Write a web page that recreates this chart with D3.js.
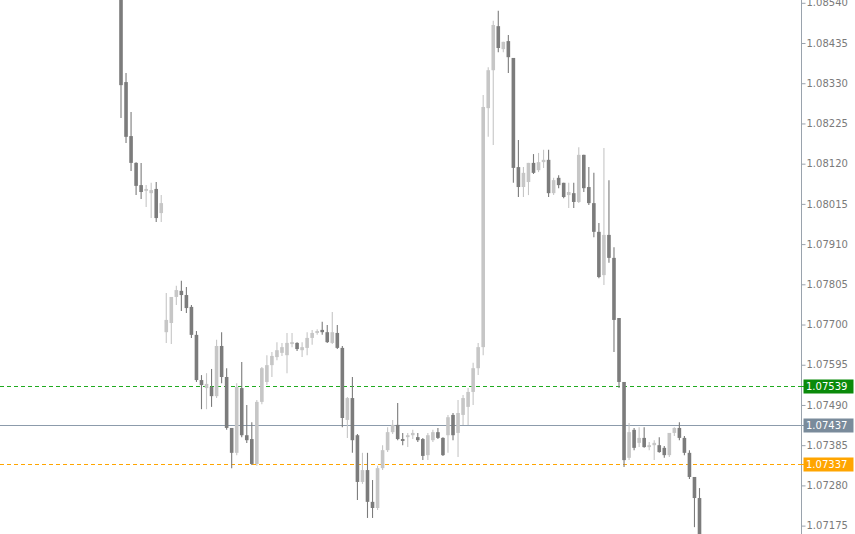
<!DOCTYPE html>
<html><head><meta charset="utf-8">
<script src="https://cdn.jsdelivr.net/npm/d3@7"></script>
<style>
html,body{margin:0;padding:0;background:#fff;overflow:hidden}
svg{display:block}
text{font-family:"DejaVu Sans",sans-serif;font-size:10px}
</style></head>
<body>
<svg id="chart" width="855" height="534"></svg>
<script>
// ---- data (EURUSD-like candles) ----
const opens = [1.08580,1.08333,1.08192,1.08122,1.08064,1.08049,1.08043,1.08054,1.07991,
1.07680,1.07704,1.07772,1.07788,1.07777,1.07746,1.07673,1.07555,1.07534,1.07537,1.07513,1.07644,1.07563,1.07430,1.07365,1.07534,1.07411,1.07401,1.07336,1.07498,1.07550,
1.07594,1.07615,1.07626,1.07620,1.07649,1.07652,1.07633,1.07639,1.07665,1.07678,1.07686,1.07680,1.07652,1.07678,1.07639,1.07451,1.07508,1.07411,1.07289,1.07320,
1.07237,1.07221,1.07325,1.07372,1.07419,1.07438,1.07401,1.07406,1.07411,1.07406,1.07401,1.07359,1.07398,1.07419,1.07404,1.07411,1.07464,1.07417,1.07464,1.07485,
1.07524,1.07586,1.07641,1.08265,1.08364,1.08479,1.08419,1.08440,1.08396,1.08111,1.08059,1.08072,1.08122,1.08103,1.08124,1.08130,1.08043,1.08083,1.08070,1.08038,
1.08043,1.08020,1.08143,1.08059,1.08017,1.07942,1.07829,1.07934,1.07874,1.07717,1.07550,1.07352,1.07425,1.07391,1.07404,1.07380,1.07385,1.07385,1.07378,1.07359,
1.07417,1.07430,1.07404,1.07365,1.07302,1.07247];
const highs = [1.08590,1.08357,1.08255,1.08124,1.08122,1.08064,1.08070,1.08072,1.08038,
1.07782,1.07772,1.07801,1.07814,1.07798,1.07751,1.07683,1.07568,1.07573,1.07584,1.07660,1.07680,1.07586,1.07430,1.07547,1.07602,1.07490,1.07445,1.07503,1.07589,1.07620,
1.07628,1.07654,1.07652,1.07678,1.07678,1.07654,1.07654,1.07680,1.07686,1.07688,1.07707,1.07699,1.07733,1.07699,1.07644,1.07511,1.07563,1.07414,1.07365,1.07365,
1.07294,1.07331,1.07385,1.07432,1.07451,1.07495,1.07417,1.07417,1.07425,1.07417,1.07404,1.07417,1.07425,1.07430,1.07406,1.07464,1.07469,1.07503,1.07516,1.07534,
1.07600,1.07652,1.08299,1.08372,1.08493,1.08519,1.08438,1.08456,1.08396,1.08182,1.08111,1.08122,1.08145,1.08148,1.08156,1.08156,1.08083,1.08090,1.08070,1.08070,
1.08070,1.08163,1.08143,1.08111,1.08096,1.07965,1.08161,1.08077,1.07902,1.07717,1.07550,1.07443,1.07430,1.07432,1.07432,1.07393,1.07398,1.07406,1.07383,1.07417,
1.07432,1.07445,1.07409,1.07372,1.07302,1.07273];
const lows = [1.08239,1.08174,1.08101,1.08038,1.08028,1.08007,1.07978,1.07968,1.07968,
1.07652,1.07649,1.07751,1.07735,1.07730,1.07665,1.07550,1.07479,1.07479,1.07485,1.07508,1.07547,1.07425,1.07325,1.07359,1.07406,1.07391,1.07333,1.07331,1.07492,1.07542,
1.07563,1.07607,1.07618,1.07573,1.07641,1.07631,1.07615,1.07620,1.07647,1.07673,1.07673,1.07652,1.07649,1.07636,1.07432,1.07404,1.07365,1.07242,1.07284,1.07195,
1.07195,1.07216,1.07320,1.07367,1.07414,1.07398,1.07385,1.07380,1.07401,1.07393,1.07346,1.07346,1.07393,1.07401,1.07357,1.07365,1.07398,1.07354,1.07438,1.07438,
1.07490,1.07568,1.07620,1.08190,1.08169,1.08411,1.08411,1.08357,1.08070,1.08033,1.08033,1.08038,1.08093,1.08098,1.08109,1.08033,1.08038,1.08056,1.08030,1.08004,
1.08004,1.08017,1.08046,1.08012,1.07928,1.07821,1.07803,1.07861,1.07628,1.07534,1.07328,1.07346,1.07372,1.07380,1.07378,1.07372,1.07346,1.07365,1.07352,1.07354,
1.07409,1.07398,1.07359,1.07297,1.07171,1.07124];
const closes = [1.08325,1.08190,1.08122,1.08062,1.08046,1.08054,1.08051,1.07978,1.08017,
1.07712,1.07772,1.07790,1.07777,1.07743,1.07673,1.07555,1.07542,1.07545,1.07513,1.07644,1.07563,1.07430,1.07365,1.07537,1.07411,1.07398,1.07336,1.07498,1.07586,1.07594,
1.07618,1.07633,1.07641,1.07652,1.07654,1.07636,1.07641,1.07665,1.07678,1.07683,1.07680,1.07654,1.07680,1.07639,1.07456,1.07508,1.07398,1.07289,1.07320,1.07237,
1.07221,1.07325,1.07372,1.07419,1.07438,1.07401,1.07396,1.07411,1.07417,1.07398,1.07357,1.07411,1.07419,1.07404,1.07359,1.07458,1.07411,1.07469,1.07508,1.07524,
1.07586,1.07641,1.08268,1.08364,1.08482,1.08422,1.08438,1.08398,1.08109,1.08059,1.08096,1.08122,1.08096,1.08124,1.08130,1.08043,1.08077,1.08064,1.08033,1.08046,
1.08020,1.08143,1.08056,1.08017,1.07942,1.07824,1.07934,1.07874,1.07712,1.07550,1.07346,1.07419,1.07378,1.07404,1.07380,1.07385,1.07391,1.07367,1.07359,1.07417,
1.07430,1.07404,1.07365,1.07302,1.07247,1.07137];
const barIndex = opens.map((_, i) => i + 1);
const tickValues = [1.08540,1.08435,1.08330,1.08225,1.08120,1.08015,1.07910,1.07805,1.07700,1.07595,1.07490,1.07385,1.07280,1.07175];
const levelValues = [1.07539, 1.07437, 1.07337];
const levelNames = ["upper", "bid", "lower"];

// ---- layout/styles ----
const W = 855, H = 534, axisX = 801;
const levelStyle = {
  upper: {line: "#1faa1f", box: "#0a8a0a", dash: "4,3"},
  bid:   {line: "#8c9bab", box: "#7a8b9b", dash: null},
  lower: {line: "#ffa500", box: "#ffa500", dash: "4,3"}
};
const upColor = "#c6c6c6", downColor = "#7c7c7c";

const svg = d3.select("#chart");
const x = d3.scalePoint().domain(barIndex).range([121, 699.5]);
const y = d3.scaleLinear().domain([1.071531, 1.085473]).range([H, 0]);

svg.append("defs").append("clipPath").attr("id", "plot")
  .append("rect").attr("x", 0).attr("y", 0).attr("width", axisX).attr("height", H);

const plot = svg.append("g").attr("clip-path", "url(#plot)");

// level lines
levelValues.forEach((v, i) => {
  const s = levelStyle[levelNames[i]];
  plot.append("line")
    .attr("x1", 0).attr("x2", axisX)
    .attr("y1", Math.round(y(v)) + 0.5).attr("y2", Math.round(y(v)) + 0.5)
    .attr("stroke", s.line).attr("stroke-width", 1.2)
    .attr("stroke-dasharray", s.dash);
});

const candles = barIndex.map((b, i) => ({b, o: opens[i], h: highs[i], l: lows[i], c: closes[i]}));
const bodyW = 3.6;
const g = plot.append("g");
g.selectAll("line.wick").data(candles).join("line")
  .attr("class", "wick")
  .attr("x1", d => x(d.b)).attr("x2", d => x(d.b))
  .attr("y1", d => y(d.h)).attr("y2", d => y(d.l))
  .attr("stroke", d => d.c >= d.o ? upColor : downColor)
  .attr("stroke-width", 1.1);
g.selectAll("rect.body").data(candles).join("rect")
  .attr("class", "body")
  .attr("x", d => x(d.b) - bodyW / 2)
  .attr("width", bodyW)
  .attr("y", d => y(Math.max(d.o, d.c)))
  .attr("height", d => Math.max(1, Math.abs(y(d.o) - y(d.c))))
  .attr("fill", d => d.c >= d.o ? upColor : downColor);

// price axis
const axis = d3.axisRight(y).tickValues(tickValues).tickSize(4).tickSizeOuter(0)
  .tickFormat(d3.format(".5f"));
const ag = svg.append("g").attr("transform", `translate(${axisX + 0.5},0)`).call(axis);
ag.select(".domain").remove();
ag.selectAll(".tick line").attr("stroke", "#9aa3ad");
ag.selectAll(".tick text").attr("fill", "#7a7a7a").attr("x", 5)
  .style("font-family", '"DejaVu Sans",sans-serif').style("font-size", "10px");
svg.append("line").attr("x1", axisX + 0.5).attr("x2", axisX + 0.5)
  .attr("y1", 0).attr("y2", H).attr("stroke", "#9aa3ad").attr("stroke-width", 1);

// level labels
levelValues.forEach((v, i) => {
  const s = levelStyle[levelNames[i]];
  const yy = Math.round(y(v)) + 0.5;
  svg.append("line").attr("x1", axisX).attr("x2", axisX + 4)
    .attr("y1", yy).attr("y2", yy).attr("stroke", s.line);
  svg.append("rect").attr("x", 803.5).attr("y", yy - 7).attr("width", 50).attr("height", 14)
    .attr("fill", s.box);
  svg.append("text").attr("x", 806).attr("y", yy).attr("dy", "0.35em")
    .attr("fill", "#fff").text(d3.format(".5f")(v));
});
</script>
</body></html>
